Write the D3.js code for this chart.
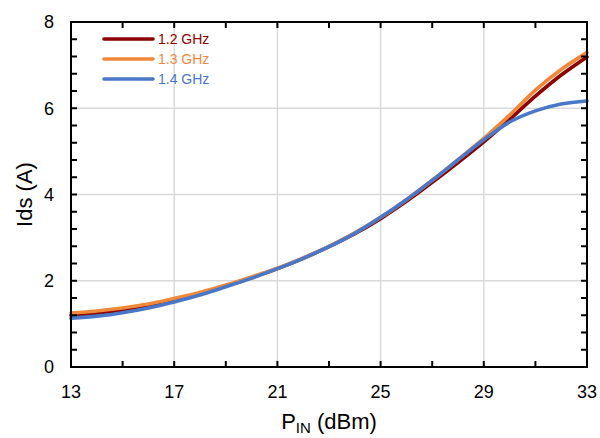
<!DOCTYPE html>
<html>
<head>
<meta charset="utf-8">
<script src="https://cdn.jsdelivr.net/npm/d3@7"></script>
<style>
html,body{margin:0;padding:0;background:#fff;}
svg{display:block;font-family:Arial,"Liberation Sans",sans-serif;}
</style>
</head>
<body>
<svg id="chart" width="600" height="438"></svg>
<script>
const pin = [13,14,15,16,17,18,19,20,21,22,23,24,25,26,27,28,29,30,31,32,33];
const ids12 = [1.20,1.25,1.32,1.42,1.55,1.70,1.88,2.07,2.28,2.52,2.79,3.09,3.44,3.84,4.28,4.74,5.22,5.74,6.28,6.77,7.19];
const ids13 = [1.25,1.30,1.37,1.46,1.59,1.73,1.90,2.09,2.29,2.53,2.80,3.11,3.47,3.88,4.33,4.81,5.30,5.84,6.42,6.90,7.29];
const ids14 = [1.13,1.18,1.26,1.37,1.51,1.67,1.86,2.06,2.28,2.52,2.79,3.10,3.47,3.88,4.33,4.80,5.27,5.68,5.94,6.10,6.17];
const seriesNames = ["1.2 GHz","1.3 GHz","1.4 GHz"];
const seriesColors = ["#8B0000","#F0883A","#4A78C8"];
const xTicks = [13,17,21,25,29,33];
const yTicks = [0,2,4,6,8];

const seriesVals = [ids12, ids13, ids14];
const svg = d3.select("#chart");
const L = 71, R = 587, T = 22, B = 367;
const x = d3.scaleLinear().domain([13,33]).range([L,R]);
const y = d3.scaleLinear().domain([0,8]).range([B,T]);

// grid
const g = svg.append("g");
g.selectAll(".vg").data(xTicks.slice(1,-1)).join("line")
  .attr("x1",d=>x(d)).attr("x2",d=>x(d)).attr("y1",T).attr("y2",B)
  .attr("stroke","#d9d9d9").attr("stroke-width",1.5);
g.selectAll(".hg").data(yTicks.slice(1,-1)).join("line")
  .attr("y1",d=>y(d)).attr("y2",d=>y(d)).attr("x1",L).attr("x2",R)
  .attr("stroke","#d9d9d9").attr("stroke-width",1.5);

// curves
const line = d3.line().x((d,i)=>x(pin[i])).y(d=>y(d)).curve(d3.curveMonotoneX);
seriesVals.forEach((vals,k)=>{
  svg.append("path").datum(vals).attr("d",line)
    .attr("fill","none").attr("stroke",seriesColors[k]).attr("stroke-width",3.6)
    .attr("stroke-linecap","round");
});

// inward ticks on all four sides
const xMinor = d3.range(13,33.01,2);
const yMinor = d3.range(0,8.01,0.4);
const tk = svg.append("g").attr("stroke","#000").attr("stroke-width",2);
const TL = 6;
tk.selectAll(".tb").data(xMinor).join("line")
  .attr("x1",d=>x(d)).attr("x2",d=>x(d)).attr("y1",B).attr("y2",B-TL);
tk.selectAll(".tt").data(xMinor).join("line")
  .attr("x1",d=>x(d)).attr("x2",d=>x(d)).attr("y1",T).attr("y2",T+TL);
tk.selectAll(".tl").data(yMinor).join("line")
  .attr("y1",d=>y(d)).attr("y2",d=>y(d)).attr("x1",L).attr("x2",L+TL);
tk.selectAll(".tr").data(yMinor).join("line")
  .attr("y1",d=>y(d)).attr("y2",d=>y(d)).attr("x1",R).attr("x2",R-TL);

// tick labels
svg.append("g").selectAll("text").data(xTicks).join("text")
  .attr("x",d=>x(d)).attr("y",B+31).attr("text-anchor","middle")
  .attr("font-size",18).attr("fill","#000").text(d=>d);
svg.append("g").selectAll("text").data(yTicks).join("text")
  .attr("x",L-17).attr("y",d=>y(d)).attr("dy","0.36em").attr("text-anchor","end")
  .attr("font-size",18).attr("fill","#000").text(d=>d);

// frame
svg.append("rect").attr("x",L).attr("y",T).attr("width",R-L).attr("height",B-T)
  .attr("fill","none").attr("stroke","#000").attr("stroke-width",2);

// axis titles
const xt = svg.append("text").attr("x",(L+R)/2).attr("y",429).attr("text-anchor","middle")
  .attr("font-size",22).attr("fill","#000");
xt.append("tspan").text("P");
xt.append("tspan").text("IN").attr("font-size",15).attr("dy",4);
xt.append("tspan").text(" (dBm)").attr("dy",-4);

svg.append("text").attr("transform",`translate(32,${(T+B)/2}) rotate(-90)`)
  .attr("text-anchor","middle").attr("font-size",22).attr("fill","#000").text("Ids (A)");

// legend
const lg = svg.append("g");
seriesNames.forEach((n,k)=>{
  const yy = 39 + k*20;
  lg.append("line").attr("x1",104).attr("x2",153).attr("y1",yy).attr("y2",yy)
    .attr("stroke",seriesColors[k]).attr("stroke-width",3.6).attr("stroke-linecap","round");
  lg.append("text").attr("x",158).attr("y",yy).attr("dy","0.36em")
    .attr("font-size",14).attr("fill",seriesColors[k]).text(n);
});
</script>
</body>
</html>
